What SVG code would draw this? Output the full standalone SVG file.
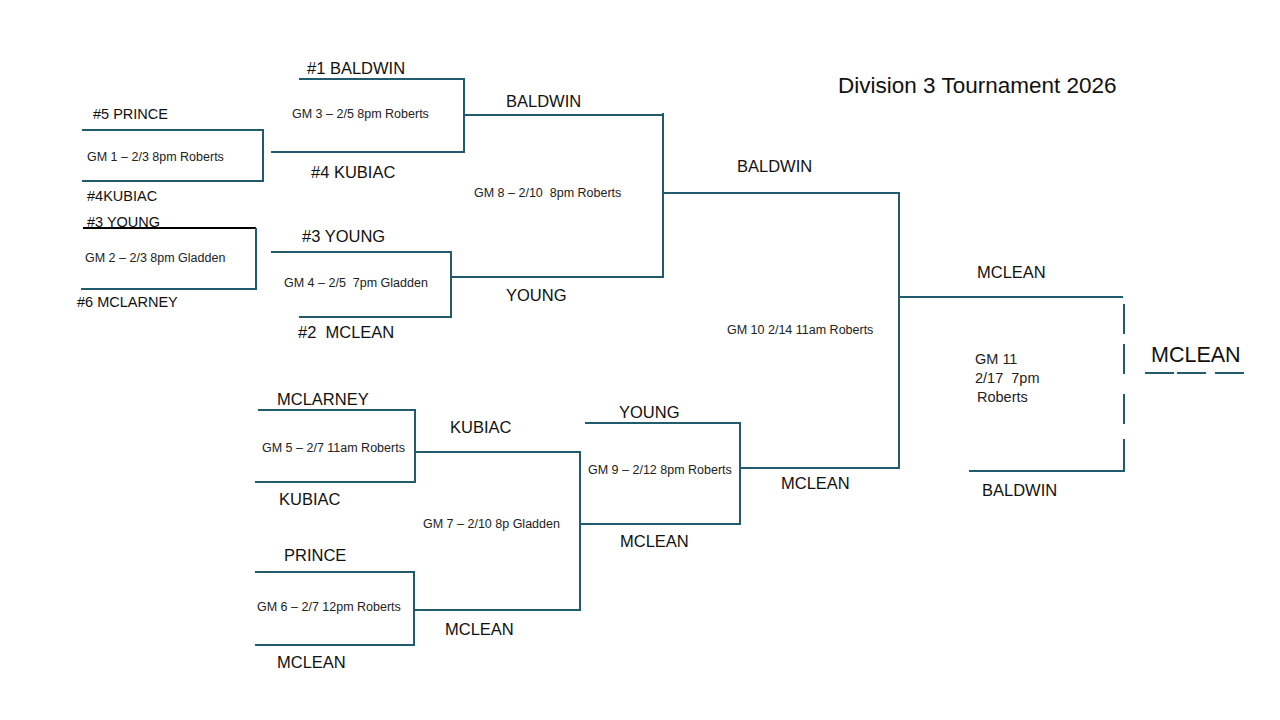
<svg xmlns="http://www.w3.org/2000/svg" width="1280" height="720" viewBox="0 0 1280 720">
<style>
  text { font-family: "Liberation Sans", Arial, sans-serif; fill: #111; white-space: pre; }
  .title { font-size: 22.5px; }
  .t1 { font-size: 14.5px; }
  .t2 { font-size: 16.5px; }
  .gm { font-size: 12.5px; fill: #222; }
  .gm11 { font-size: 14.5px; fill: #222; }
  .champ { font-size: 21.5px; }
  .ln { fill: none; stroke: #235b6e; stroke-width: 2; stroke-linecap: square; }
  .blk { fill: none; stroke: #000; stroke-width: 2; }
</style>
<rect width="1280" height="720" fill="#fff"/>

<g id="title"><text class="title" x="838" y="93">Division 3 Tournament 2026</text></g>

<g id="connectors">
  <path class="ln" d="M83,130 H263 V181 H83"/>
  <path class="blk" d="M83,228 H256"/>
  <path class="ln" d="M256,229 V289 H82"/>
  <path class="ln" d="M300,79 H464 V152 H272"/>
  <path class="ln" d="M464,115 H663"/>
  <path class="ln" d="M272,252 H451 V317 H300"/>
  <path class="ln" d="M451,277 H663"/>
  <path class="ln" d="M663,114 V277"/>
  <path class="ln" d="M663,193 H899"/>
  <path class="ln" d="M259,410 H415 V482 H256"/>
  <path class="ln" d="M415,452 H580"/>
  <path class="ln" d="M256,572 H414 V645 H256"/>
  <path class="ln" d="M414,610 H580"/>
  <path class="ln" d="M580,452 V610"/>
  <path class="ln" d="M586,423 H740 V524 H582"/>
  <path class="ln" d="M740,468 H899"/>
  <path class="ln" d="M899,193 V468"/>
  <path class="ln" d="M899,297 H1122"/>
  <path class="ln" d="M970,471 H1124"/>
  <path class="ln" d="M1124,305 V333 M1124,345 V373 M1124,395 V423 M1124,440 V470"/>
  <path class="ln" d="M1146,373 H1173 M1178,373 H1205 M1216,373 H1243"/>
</g>

<g id="gm1">
  <text class="t1" x="93" y="119">#5 PRINCE</text>
  <text class="gm" x="87" y="161">GM 1 – 2/3 8pm Roberts</text>
  <text class="t1" x="87" y="201">#4KUBIAC</text>
</g>
<g id="gm2">
  <text class="t1" x="87" y="227">#3 YOUNG</text>
  <text class="gm" x="85" y="262">GM 2 – 2/3 8pm Gladden</text>
  <text class="t1" x="77" y="307">#6 MCLARNEY</text>
</g>
<g id="gm3">
  <text class="t2" x="307" y="74">#1 BALDWIN</text>
  <text class="gm" x="292" y="118">GM 3 – 2/5 8pm Roberts</text>
  <text class="t2" x="311" y="178">#4 KUBIAC</text>
</g>
<g id="gm4">
  <text class="t2" x="302" y="242">#3 YOUNG</text>
  <text class="gm" x="284" y="287">GM 4 – 2/5  7pm Gladden</text>
  <text class="t2" x="298" y="338">#2  MCLEAN</text>
</g>
<g id="gm8">
  <text class="t2" x="506" y="107">BALDWIN</text>
  <text class="gm" x="474" y="197">GM 8 – 2/10  8pm Roberts</text>
  <text class="t2" x="506" y="301">YOUNG</text>
</g>
<g id="gm5">
  <text class="t2" x="277" y="405">MCLARNEY</text>
  <text class="gm" x="262" y="452">GM 5 – 2/7 11am Roberts</text>
  <text class="t2" x="279" y="505">KUBIAC</text>
</g>
<g id="gm6">
  <text class="t2" x="284" y="561">PRINCE</text>
  <text class="gm" x="257" y="611">GM 6 – 2/7 12pm Roberts</text>
  <text class="t2" x="277" y="668">MCLEAN</text>
</g>
<g id="gm7">
  <text class="t2" x="450" y="433">KUBIAC</text>
  <text class="gm" x="423" y="528">GM 7 – 2/10 8p Gladden</text>
  <text class="t2" x="445" y="635">MCLEAN</text>
</g>
<g id="gm9">
  <text class="t2" x="619" y="418">YOUNG</text>
  <text class="gm" x="588" y="474">GM 9 – 2/12 8pm Roberts</text>
  <text class="t2" x="620" y="547">MCLEAN</text>
</g>
<g id="gm10">
  <text class="t2" x="737" y="172">BALDWIN</text>
  <text class="gm" x="727" y="334">GM 10 2/14 11am Roberts</text>
  <text class="t2" x="781" y="489">MCLEAN</text>
</g>
<g id="gm11">
  <text class="t2" x="977" y="278">MCLEAN</text>
  <text class="gm11" x="975" y="364">GM 11</text>
  <text class="gm11" x="975" y="383">2/17  7pm</text>
  <text class="gm11" x="977" y="402">Roberts</text>
  <text class="t2" x="982" y="496">BALDWIN</text>
</g>
<g id="champion">
  <text class="champ" x="1151" y="362">MCLEAN</text>
</g>
</svg>
